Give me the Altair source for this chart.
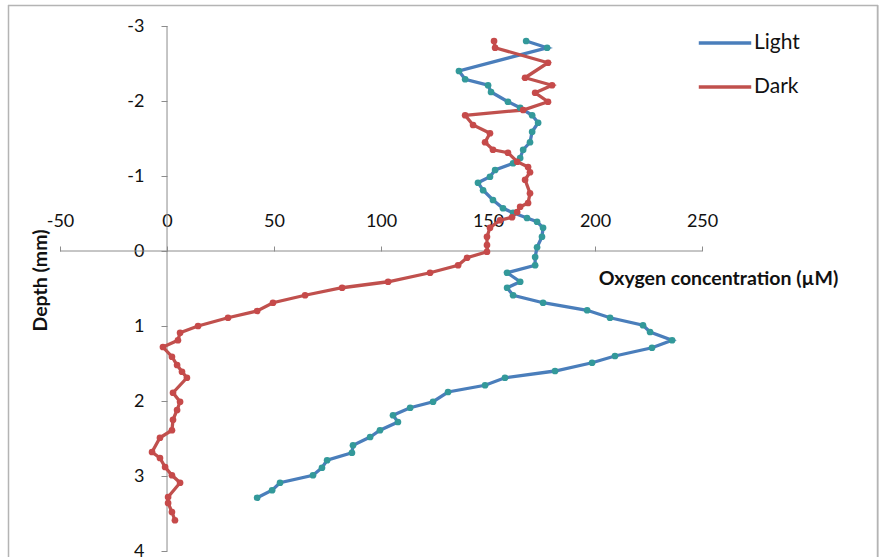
import altair as alt
import pandas as pd

# Oxygen micro-profiles (depth in mm, O2 in µM)
light_depth = [-2.80, -2.71, -2.40, -2.29, -2.21, -2.12, -1.99, -1.91, -1.81, -1.71,
               -1.59, -1.45, -1.35, -1.24, -1.17, -1.08, -0.99, -0.91, -0.81, -0.68,
               -0.57, -0.51, -0.44, -0.39, -0.31, -0.19, -0.05, 0.08, 0.19, 0.29,
               0.41, 0.49, 0.59, 0.69, 0.79, 0.89, 0.99, 1.08, 1.19, 1.29,
               1.40, 1.49, 1.60, 1.69, 1.79, 1.88, 2.01, 2.09, 2.19, 2.28,
               2.39, 2.48, 2.59, 2.69, 2.79, 2.89, 2.99, 3.09, 3.19, 3.29]
light_o2 = [167.8, 177.6, 136.4, 139.3, 150.0, 151.4, 159.3, 165.0, 170.6, 173.4,
            170.6, 169.6, 166.4, 165.0, 161.7, 153.3, 150.9, 145.3, 147.7, 152.3,
            157.0, 161.7, 168.2, 172.9, 175.7, 175.2, 172.9, 172.0, 172.0, 158.9,
            165.0, 158.9, 161.7, 175.7, 196.3, 207.0, 222.4, 225.7, 236.0, 226.6,
            209.3, 198.6, 181.3, 157.9, 148.6, 131.3, 124.3, 113.6, 105.6, 107.9,
            99.5, 94.9, 86.9, 86.4, 74.8, 72.4, 68.2, 52.8, 49.1, 42.1]

dark_depth = [-2.80, -2.71, -2.51, -2.31, -2.21, -2.11, -1.99, -1.88, -1.81, -1.68,
              -1.57, -1.45, -1.35, -1.31, -1.19, -1.12, -1.05, -0.95, -0.77, -0.64,
              -0.59, -0.52, -0.45, -0.41, -0.31, -0.19, -0.08, 0.01, 0.09, 0.19,
              0.29, 0.41, 0.49, 0.59, 0.69, 0.80, 0.89, 1.00, 1.09, 1.19,
              1.28, 1.41, 1.52, 1.61, 1.69, 1.89, 2.01, 2.12, 2.25, 2.39,
              2.49, 2.68, 2.76, 2.88, 2.99, 3.09, 3.28, 3.36, 3.48, 3.59]
dark_o2 = [152.8, 153.3, 178.0, 167.3, 179.9, 172.0, 178.0, 166.4, 139.3, 143.0,
           150.9, 148.6, 152.3, 159.3, 163.6, 168.7, 169.6, 167.3, 169.6, 168.7,
           165.0, 163.6, 161.2, 155.6, 150.9, 149.5, 149.5, 149.5, 140.2, 136.0,
           122.9, 103.3, 81.8, 64.5, 49.5, 42.1, 28.5, 14.5, 6.1, 5.1,
           -1.9, 2.3, 4.7, 7.0, 9.3, 2.8, 6.1, 4.7, 2.8, 2.3,
           -3.3, -7.0, -3.3, -0.9, 2.3, 6.1, 0.5, 0.5, 2.3, 3.7]

series = ["Light", "Dark"]
line_colors = ["#4a7ebb", "#c0504d"]
marker_colors = ["#33999a", "#c64a4a"]

x_ticks = [-50, 0, 50, 100, 150, 200, 250]
y_ticks = [-3, -2, -1, 0, 1, 2, 3, 4]

frames = []
for name, d, o in [("Light", light_depth, light_o2), ("Dark", dark_depth, dark_o2)]:
    frames.append(pd.DataFrame({"series": name, "depth": d, "o2": o, "idx": range(len(d))}))
df = pd.concat(frames, ignore_index=True)

# The view fills the whole bordered chart area; the axes sit inside it.
W, H = 870, 552
X_DOMAIN = [-74.3, 332.2]
Y_DOMAIN = [-3.28, 4.08]
X_AXIS_OFFSET = -246   # axis line at depth 0
Y_AXIS_OFFSET = -159   # axis line at O2 = 0
FONT = "Lato"
AXIS_GREY = "#8c8c8c"
TEXT = "#111"
PLAIN_NUMBER = "'' + datum.value"   # hyphen-minus, no thousands formatting

x_scale = alt.Scale(domain=X_DOMAIN, nice=False, zero=False)
y_scale = alt.Scale(domain=Y_DOMAIN, reverse=True, nice=False, zero=False)

x_enc = alt.X(
    "o2:Q",
    scale=x_scale,
    axis=alt.Axis(
        orient="top", offset=X_AXIS_OFFSET, values=x_ticks, labelExpr=PLAIN_NUMBER,
        grid=False, domain=False, tickColor=AXIS_GREY, tickSize=5,
        labelFont=FONT, labelFontSize=18, labelColor=TEXT, labelPadding=16,
        title="Oxygen concentration (µM)", titleFont=FONT, titleFontSize=19.5,
        titleFontWeight="bold", titleColor=TEXT,
        titleX=710, titleY=27, titleAlign="center", titleBaseline="middle",
        titleAngle=0,
    ),
)
y_enc = alt.Y(
    "depth:Q",
    scale=y_scale,
    axis=alt.Axis(
        orient="left", offset=Y_AXIS_OFFSET, values=y_ticks, labelExpr=PLAIN_NUMBER,
        grid=False, domain=False, tickColor=AXIS_GREY, tickSize=6,
        labelFont=FONT, labelFontSize=18, labelColor=TEXT, labelPadding=17,
        title="Depth (mm)", titleFont=FONT, titleFontSize=19.5,
        titleFontWeight="bold", titleColor=TEXT,
        titleX=-127, titleY=275, titleAlign="center", titleBaseline="middle",
        titleAngle=-90,
    ),
)

base = alt.Chart(df)

lines = base.mark_line(strokeWidth=3.3).encode(
    x=x_enc,
    y=y_enc,
    color=alt.Color(
        "series:N",
        scale=alt.Scale(domain=series, range=line_colors),
        legend=alt.Legend(
            title=None, orient="none", legendX=689, legendY=10, padding=0,
            symbolType="stroke", symbolSize=2750, symbolStrokeWidth=3.5,
            labelFont=FONT, labelFontSize=21, labelColor=TEXT,
            labelOffset=1, rowPadding=6,
        ),
    ),
    detail="series:N",
    order="idx:Q",
)

points = base.mark_circle(size=45, opacity=1).encode(
    x=alt.X("o2:Q"),
    y=alt.Y("depth:Q"),
    fill=alt.Fill("series:N", scale=alt.Scale(domain=series, range=marker_colors), legend=None),
)

one = alt.Chart(pd.DataFrame({"k": [0]}))

# axis lines crossing at the origin
x_axis_line = one.mark_rule(color=AXIS_GREY, strokeWidth=1).encode(
    x=alt.datum(x_ticks[0], scale=x_scale), x2=alt.datum(x_ticks[-1]),
    y=alt.datum(0, scale=y_scale),
)
y_axis_line = one.mark_rule(color=AXIS_GREY, strokeWidth=1).encode(
    x=alt.datum(0, scale=x_scale),
    y=alt.datum(y_ticks[0], scale=y_scale), y2=alt.datum(y_ticks[-1]),
)

# outer chart border (top, left, right)
border_style = dict(color="#b4b4b4", strokeWidth=1.5)
border = [
    one.mark_rule(**border_style).encode(x=alt.value(0), x2=alt.value(W), y=alt.value(0.5)),
    one.mark_rule(**border_style).encode(x=alt.value(0.5), y=alt.value(0), y2=alt.value(H)),
    one.mark_rule(**border_style).encode(x=alt.value(W - 0.5), y=alt.value(0), y2=alt.value(H)),
]

chart = (
    alt.layer(*border, x_axis_line, y_axis_line, lines, points)
    .resolve_scale(color="independent", fill="independent")
    .properties(
        width=W, height=H,
        padding={"left": 8, "top": 5, "right": 881 - 8 - W, "bottom": 557 - 5 - H},
        autosize=alt.AutoSizeParams(type="none"),
    )
    .configure_view(stroke=None)
    .configure(background="white")
)

chart.save("out.html", embed_options={"renderer": "svg", "actions": False})
